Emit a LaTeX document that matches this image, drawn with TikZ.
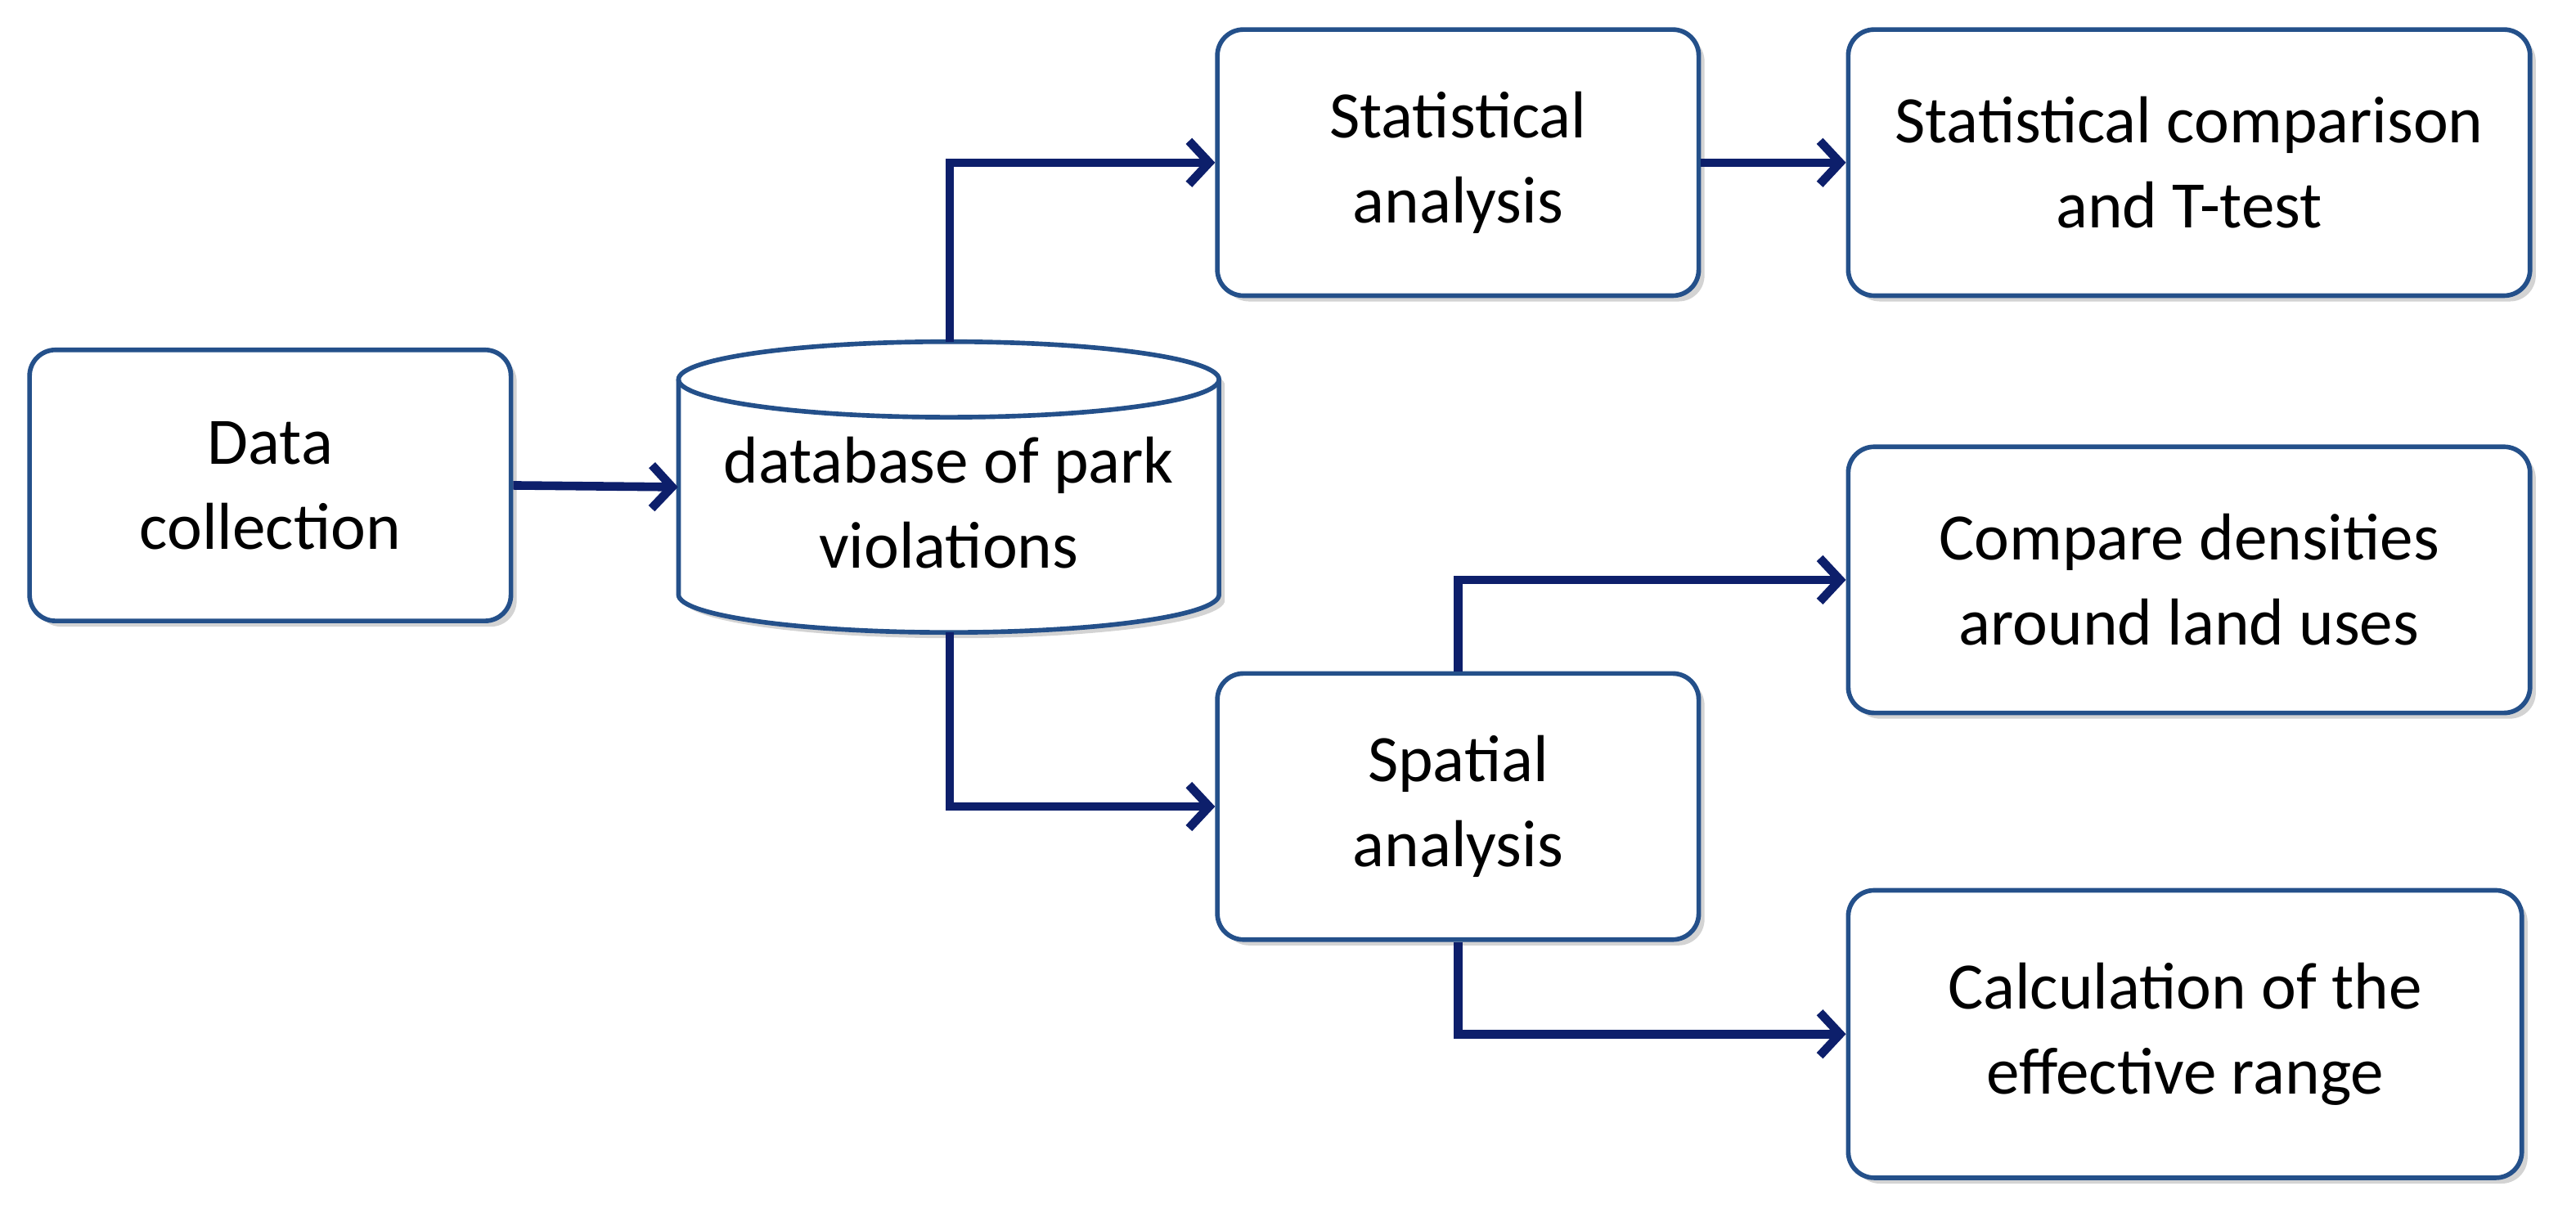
\documentclass[tikz,border=0pt]{standalone}
\usepackage{fontspec}
\setmainfont{Carlito}
\usetikzlibrary{shadows,arrows.meta}
\definecolor{bd}{HTML}{24508A}
\definecolor{ar}{HTML}{0D1F6B}
\begin{document}
\begin{tikzpicture}[x=0.02cm,y=-0.02cm,
  box/.style={draw=bd,line width=1.6pt,rounded corners=9pt,fill=white,
    drop shadow={shadow xshift=2pt,shadow yshift=-2pt,opacity=0.35},
    align=center,font=\fontsize{23}{29.5}\selectfont},
  conn/.style={draw=ar,line width=3pt,-{Straight Barb[length=7pt,width=15pt,line width=3pt]}}]
\useasboundingbox (0,0) rectangle (1568,749);
\node[box,minimum width=293*0.02cm,minimum height=165*0.02cm] (dc) at (164.5,295.5) {Data\\collection};
% cylinder
\path[fill=white,drop shadow={shadow xshift=2pt,shadow yshift=-2pt,opacity=0.35}]
  (413,231) -- (413,362) arc[start angle=180,end angle=360,x radius=164.5,y radius=-23] -- (742,231) arc[start angle=0,end angle=180,x radius=164.5,y radius=-23] -- cycle;
\draw[bd,line width=1.6pt] (413,231) -- (413,362) arc[start angle=180,end angle=360,x radius=164.5,y radius=-23] -- (742,231);
\draw[bd,line width=1.6pt] (577.5,231) ellipse[x radius=164.5,y radius=23];
\node[minimum width=329*0.02cm,minimum height=177*0.02cm] (db) at (577.5,296.5) {};
\node[align=center,font=\fontsize{23}{29.5}\selectfont] (dbt) at (577.5,306) {database of park\\violations};
\node[box,minimum width=293*0.02cm,minimum height=162*0.02cm] (sa) at (887.5,99) {Statistical\\analysis};
\node[box,minimum width=415*0.02cm,minimum height=162*0.02cm] (sc) at (1332.5,99) {Statistical comparison\\and T-test};
\node[box,minimum width=415*0.02cm,minimum height=162*0.02cm] (cd) at (1332.5,353) {Compare densities\\around land uses};
\node[box,minimum width=293*0.02cm,minimum height=162*0.02cm] (sp) at (887.5,491) {Spatial\\analysis};
\node[box,minimum width=410*0.02cm,minimum height=175*0.02cm] (cr) at (1330,629.5) {Calculation of the\\effective range};
\draw[conn] (dc.east) -- (db.west);
\coordinate (c1) at (578,208);
\draw[conn] (c1) |- (sa.west);
\coordinate (c2) at (578,385);
\draw[conn] (c2) |- (sp.west);
\draw[conn] (sa.east) -- (sc.west);
\draw[conn] (sp.north) |- (cd.west);
\draw[conn] (sp.south) |- (cr.west);
\end{tikzpicture}
\end{document}
